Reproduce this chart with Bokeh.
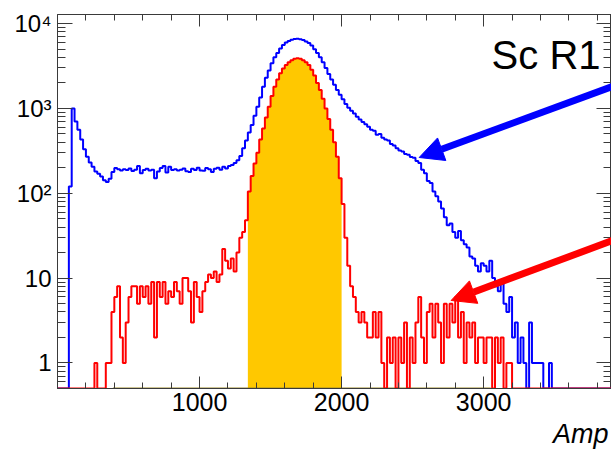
import numpy as np
from bokeh.plotting import figure
from bokeh.models import (Range1d, LinearAxis, LogAxis, FixedTicker, Arrow,
                          NormalHead, Label, Title)
from bokeh.embed import file_html
from bokeh.resources import INLINE

# ---------------- data (20-unit bins starting at 0) ----------------
BIN_START = 0
BIN_WIDTH = 20

all_counts = [
    0, 0, 0, 0, 120, 1000, 700, 560, 430, 330,
    270, 230, 205, 180, 170, 158, 142, 136, 148, 178,
    198, 192, 185, 192, 188, 196, 183, 190, 210, 172,
    188, 194, 186, 190, 150, 180, 198, 210, 176, 205,
    188, 192, 185, 190, 196, 182, 178, 194, 188, 200,
    186, 184, 198, 192, 178, 195, 200, 190, 205, 196,
    210, 215, 228, 245, 275, 340, 420, 520, 640, 820,
    1050, 1350, 1800, 2300, 2800, 3400, 4000, 4500, 5100, 5600,
    6000, 6250, 6450, 6600, 6650, 6550, 6400, 6150, 5900, 5500,
    5000, 4500, 4000, 3500, 3000, 2550, 2200, 1900, 1650, 1450,
    1280, 1130, 1020, 940, 870, 800, 740, 690, 650, 610,
    560, 545, 490, 500, 450, 430, 420, 380, 365, 340,
    320, 310, 290, 285, 268, 262, 240, 228, 190, 172,
    140, 132, 105, 92, 80, 66, 52, 42, 44, 35,
    30, 36, 28, 25, 23, 18, 17, 14, 12, 15,
    14, 12, 16, 10, 8, 7, 9, 5, 4, 6,
    2, 3, 1, 2, 1, 0, 3, 1, 1, 1,
    1, 0, 0, 1, 0, 0, 0, 0, 0, 0,
    0, 0, 0, 0, 0, 0, 0, 0, 0, 0,
    0, 0, 0, 0, 0,
]

sel_counts = [
    0, 0, 0, 0, 0, 0, 0, 0, 0, 0,
    0, 0, 0, 1, 0, 0, 0, 1, 1, 4,
    6, 8, 2, 1, 3, 6, 8, 8, 5, 8,
    6, 8, 5, 9, 2, 9, 6, 9, 5, 7,
    6, 9, 7, 5, 10, 10, 7, 3, 9, 6,
    4, 7, 9, 11, 10, 12, 9, 11, 22, 16,
    13, 17, 12, 20, 30, 35, 48, 105, 160, 225,
    300, 430, 580, 780, 1050, 1400, 1800, 2200, 2600, 2950,
    3250, 3500, 3700, 3850, 3900, 3850, 3700, 3500, 3250, 2850,
    2450, 2000, 1650, 1300, 1000, 750, 560, 400, 270, 150,
    75, 30, 14, 8, 6, 4, 3, 4, 3, 2,
    2, 4, 2, 4, 1, 0, 2, 1, 2, 0,
    2, 1, 3, 0, 2, 1, 3, 6, 2, 1,
    4, 5, 2, 5, 3, 1, 5, 2, 5, 3,
    6, 2, 4, 1, 3, 2, 3, 1, 2, 2,
    1, 2, 2, 0, 2, 1, 2, 0, 1, 1,
    0, 0, 0, 0, 0, 0, 0, 0, 0, 0,
    0, 0, 0, 0, 0, 0, 0, 0, 0, 0,
    0, 0, 0, 0, 0, 0, 0, 0, 0, 0,
    0, 0, 0, 0, 0,
]

# selected window (filled region)
WINDOW_LO = 1340
WINDOW_HI = 2000

x_major = [1000, 2000, 3000]
y_major = [1, 10, 100, 1000, 10000]
y_labels = {1: "1", 10: "10", 100: "10²", 1000: "10³", 10000: "10⁴"}

X_MIN, X_MAX = 0, 3900
Y_MIN, Y_MAX = 0.5, 12800

title_text = "Sc R1"
xlabel_text = "Amp"

# ---------------- helpers ----------------
def stairs(counts, floor):
    c = np.maximum(np.asarray(counts, dtype=float), floor)
    edges = BIN_START + BIN_WIDTH * np.arange(len(c) + 1)
    xs = np.concatenate([[edges[0]], np.repeat(edges, 2)[1:-1], [edges[-1]]])
    ys = np.concatenate([[floor], np.repeat(c, 2), [floor]])
    return xs, ys

FONT = "Liberation Sans"
FRAME = "#3a3a3a"

p = figure(width=611, height=452, x_range=Range1d(X_MIN, X_MAX),
           y_range=Range1d(Y_MIN, Y_MAX), y_axis_type="log",
           output_backend="svg", toolbar_location=None,
           min_border_left=57, min_border_right=0, min_border_top=14,
           min_border_bottom=64)
p.xgrid.visible = False
p.ygrid.visible = False
p.outline_line_color = FRAME
p.background_fill_color = "white"
p.border_fill_color = "white"

x_minor = list(range(200, 4000, 200))
y_minor = [m * 10.0 ** d for d in range(-1, 5) for m in range(2, 10)]
xt = FixedTicker(ticks=x_major, minor_ticks=x_minor)
yt = FixedTicker(ticks=y_major, minor_ticks=y_minor)

xa = p.xaxis[0]
xa.ticker = xt
xa.major_label_text_font = FONT
xa.major_label_text_font_size = "25px"
xa.major_label_text_color = "black"
xa.major_label_standoff = 4
xa.major_tick_in = 12
xa.major_tick_out = 0
xa.minor_tick_in = 6
xa.minor_tick_out = 0
xa.axis_line_color = FRAME
xa.major_tick_line_color = FRAME
xa.minor_tick_line_color = FRAME

ya = p.yaxis[0]
ya.ticker = yt
ya.major_label_overrides = y_labels
ya.major_label_text_font = FONT
ya.major_label_text_font_size = "24px"
ya.major_label_text_color = "black"
ya.major_label_standoff = 6
ya.major_tick_in = 15
ya.major_tick_out = 0
ya.minor_tick_in = 8
ya.minor_tick_out = 0
ya.axis_line_color = FRAME
ya.major_tick_line_color = FRAME
ya.minor_tick_line_color = FRAME

top = LinearAxis(ticker=xt, major_label_overrides={t: "" for t in x_major},
                 major_label_text_font_size="1px",
                 major_label_standoff=0, major_tick_in=12, major_tick_out=0,
                 minor_tick_in=6, minor_tick_out=0, axis_line_color=FRAME,
                 major_tick_line_color=FRAME, minor_tick_line_color=FRAME)
right = LogAxis(ticker=yt, major_label_overrides={t: "" for t in y_major},
                major_label_text_font_size="1px",
                major_label_standoff=0, major_tick_in=15, major_tick_out=0,
                minor_tick_in=8, minor_tick_out=0, axis_line_color=FRAME,
                major_tick_line_color=FRAME, minor_tick_line_color=FRAME)
p.add_layout(top, "above")
p.add_layout(right, "right")

# x-axis title, right-aligned below the axis
p.add_layout(Title(text=xlabel_text, align="right", offset=3,
                   text_font=FONT, text_font_size="27px",
                   text_font_style="italic", text_color="black",
                   standoff=6), "below")

# filled window under the selected histogram
sel = np.asarray(sel_counts, dtype=float)
edges = BIN_START + BIN_WIDTH * np.arange(len(sel) + 1)
lo_i = int((WINDOW_LO - BIN_START) // BIN_WIDTH)
hi_i = int((WINDOW_HI - BIN_START) // BIN_WIDTH)
we = edges[lo_i:hi_i + 1]
wc = sel[lo_i:hi_i]
fx = np.concatenate([[we[0]], np.repeat(we, 2)[1:-1], [we[-1]]])
fy = np.concatenate([[Y_MIN * 0.8], np.repeat(wc, 2), [Y_MIN * 0.8]])
p.patch(fx, fy, fill_color="#FFC800", line_color=None)

# baseline tint seen along the bottom
p.segment(x0=[390], y0=[Y_MIN], x1=[3050], y1=[Y_MIN], line_color="#9c8a2a",
          line_width=2)

bx, by = stairs(all_counts, Y_MIN)
p.line(bx, by, line_color="#0000FF", line_width=2)
rx, ry = stairs(sel_counts, Y_MIN)
p.line(rx, ry, line_color="#FF0000", line_width=2)

# arrows (annotation positions in data units)
p.add_layout(Arrow(end=NormalHead(size=24, fill_color="#0000FF", line_color="#0000FF"),
                   x_start=4000, y_start=2072, x_end=2546, y_end=264,
                   line_color="#0000FF", line_width=7))
p.add_layout(Arrow(end=NormalHead(size=24, fill_color="#FF0000", line_color="#FF0000"),
                   x_start=4000, y_start=31.7, x_end=2771, y_end=5.45,
                   line_color="#FF0000", line_width=7))

p.add_layout(Label(x=3056, y=4207, text=title_text, text_font=FONT,
                   text_font_size="40px", text_color="black",
                   text_baseline="alphabetic", text_align="left"))

open("out.html", "w").write(file_html(p, INLINE))
